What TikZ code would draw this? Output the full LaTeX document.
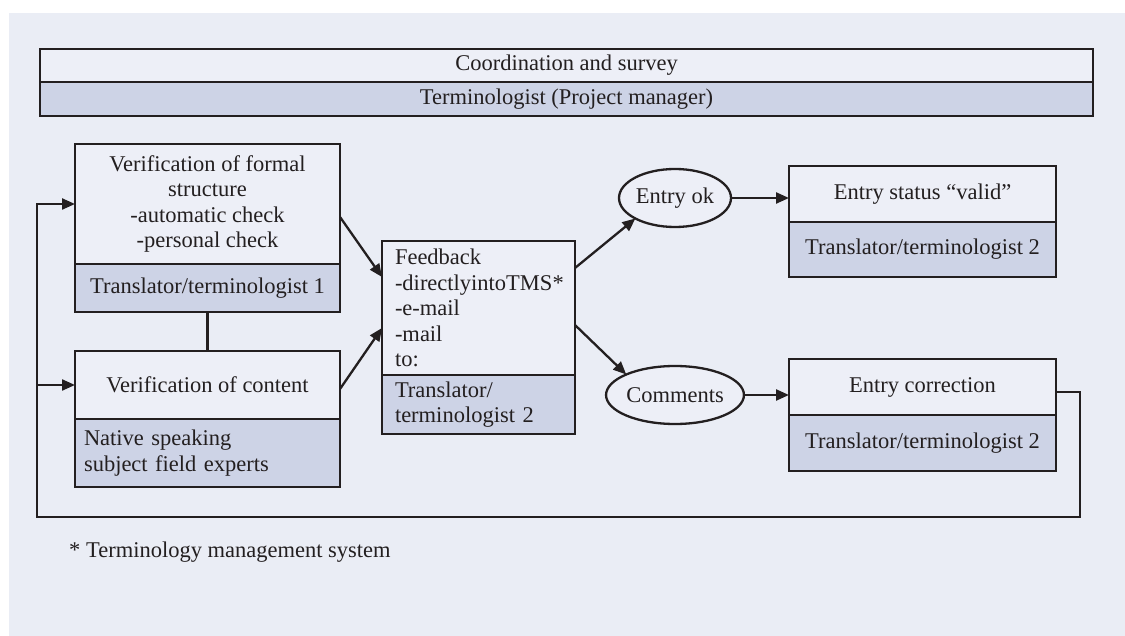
\documentclass[tikz,border=0pt]{standalone}
\usepackage{fontspec}
\setmainfont{Liberation Serif}
\usetikzlibrary{arrows.meta,shapes.geometric,calc}
\definecolor{panel}{HTML}{EAEDF5}
\definecolor{paper}{HTML}{EDEFF7}
\definecolor{shade}{HTML}{CDD3E6}
\definecolor{ink}{HTML}{231F20}

\begin{document}
\begin{tikzpicture}[x=1pt,y=-1pt,
  every node/.style={font=\fontsize{22.5}{25.5}\selectfont, text=ink},
  box/.style={draw=ink, line width=2.3pt, inner sep=0pt, outer sep=0pt,
    align=center, anchor=north west},
  plain/.style={box, fill=paper},
  role/.style={box, fill=shade},
  oval/.style={ellipse, draw=ink, line width=2.3pt, fill=paper, inner sep=0pt,
    outer sep=0pt, minimum width=112pt, minimum height=58pt},
  flow/.style={draw=ink, line width=2.3pt, -{Triangle[length=13pt,width=11pt]}},
  link/.style={draw=ink, line width=2.3pt}]

% page and panel
\useasboundingbox (0,0) rectangle (1125,636);
\fill[white] (0,0) rectangle (1125,636);
\fill[panel] (9,13) rectangle (1125,636);

% header
\node[plain, minimum width=1053pt, minimum height=33pt] (coord) at (40,49) {Coordination and survey};
\node[role, minimum width=1053pt, minimum height=34pt] (tpm) at (40,82) {Terminologist (Project manager)};

% verification of formal structure
\node[plain, minimum width=265pt, minimum height=120pt] (vfa) at (75,144)
  {Verification of formal\\ structure\\ -automatic check\\ -personal check};
\node[role, minimum width=265pt, minimum height=48pt] (vfb) at (75,264) {Translator/terminologist 1};

% verification of content
\node[plain, minimum width=265pt, minimum height=68pt] (vca) at (75,351) {Verification of content};
\node[role, minimum width=265pt, minimum height=68pt, align=left, text width=247pt, inner xsep=9pt]
  (vcb) at (75,419) {Native speaking\\ subject field experts};

% feedback
\node[plain, minimum width=193pt, minimum height=134pt, align=left, text width=167pt, inner xsep=13pt]
  (fba) at (382,241) {Feedback\\ \mbox{-directlyintoTMS*}\\ \mbox{-e-mail}\\ -mail\\ to:};
\node[role, minimum width=193pt, minimum height=59pt, align=left, text width=167pt, inner xsep=13pt]
  (fbb) at (382,375) {Translator/\\ terminologist 2};

% outcomes
\node[oval] (eok) at (675,198) {Entry ok};
\node[oval] (com) at (675,395) {Comments};

\node[plain, minimum width=267pt, minimum height=56pt] (sta) at (789,166) {Entry status “valid”};
\node[role, minimum width=267pt, minimum height=55pt] (stb) at (789,222) {Translator/terminologist 2};

\node[plain, minimum width=267pt, minimum height=56pt] (cora) at (789,359) {Entry correction};
\node[role, minimum width=267pt, minimum height=56pt] (corb) at (789,415) {Translator/terminologist 2};

% footnote
\node[anchor=base west, inner sep=0pt] (note) at (69,557) {* Terminology management system};

% connectors
\coordinate (loopl) at (37,517);
\draw[link] (vfb.south) -- (vca.north);
\draw[flow] ([yshift=-13pt]vfa.east) -- ([yshift=-36pt]fba.north west);
\draw[flow] ([yshift=-4pt]vca.east) -- ([yshift=-87pt]fba.north west);
\draw[flow] ([yshift=-27pt]fba.north east) -- (eok.south west);
\draw[flow] ([yshift=-84pt]fba.north east) -- (com.north west);
\draw[flow] (eok.east) -- (eok.east -| sta.west);
\draw[flow] (com.east) -- (com.east -| cora.west);
\draw[flow] ([yshift=-5pt]cora.east) -- ++(24,0) |- (loopl) |- (vfa.west);
\draw[flow] (loopl |- vca.west) -- (vca.west);
\end{tikzpicture}
\end{document}
